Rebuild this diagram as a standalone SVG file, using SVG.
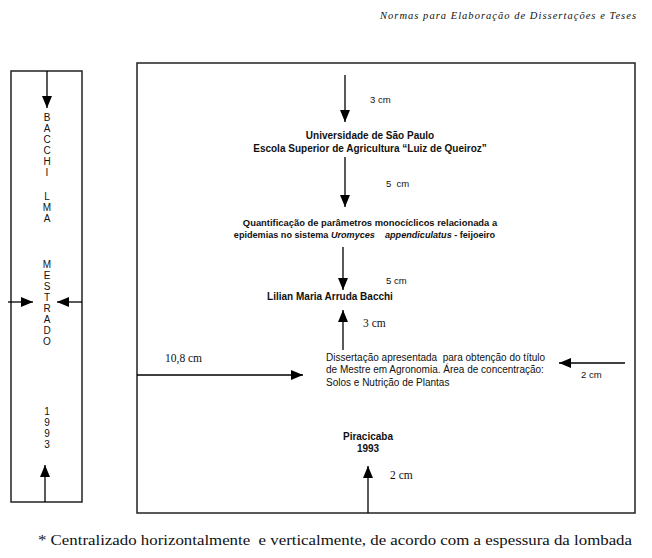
<svg xmlns="http://www.w3.org/2000/svg" width="652" height="558" viewBox="0 0 652 558">
<style>
.box{fill:none;stroke:#222;stroke-width:1.5}
.arr{fill:none;stroke:#000;stroke-width:1.3;marker-end:url(#ah)}
.sans{font-family:"Liberation Sans",Arial,sans-serif;fill:#111}
.b{font-weight:bold}
.serif{font-family:"Liberation Serif","Times New Roman",serif;fill:#111}
.sp{font-family:"Liberation Sans",Arial,sans-serif;font-size:10px;fill:#111;text-anchor:middle}
</style>
<defs>
<marker id="ah" markerUnits="userSpaceOnUse" markerWidth="12" markerHeight="10" refX="12" refY="5" orient="auto">
<path d="M0,0 L12,5 L0,10 z" fill="#000"/>
</marker>
</defs>
<text class="serif" x="380" y="19" font-size="10.5" font-style="italic" textLength="256" lengthAdjust="spacing">Normas para Elaboração de Dissertações e Teses</text>

<g id="spine">
<rect class="box" x="11" y="71" width="71" height="431"/>
<text class="sp" x="47" y="121">B</text>
<text class="sp" x="47" y="132">A</text>
<text class="sp" x="47" y="143">C</text>
<text class="sp" x="47" y="154">C</text>
<text class="sp" x="47" y="165">H</text>
<text class="sp" x="47" y="176">I</text>
<text class="sp" x="47" y="200">L</text>
<text class="sp" x="47" y="211">M</text>
<text class="sp" x="47" y="222">A</text>
<text class="sp" x="47" y="268">M</text>
<text class="sp" x="47" y="279">E</text>
<text class="sp" x="47" y="290">S</text>
<text class="sp" x="47" y="301">T</text>
<text class="sp" x="47" y="312">R</text>
<text class="sp" x="47" y="323">A</text>
<text class="sp" x="47" y="334">D</text>
<text class="sp" x="47" y="345">O</text>
<text class="sp" x="47" y="415">1</text>
<text class="sp" x="47" y="426">9</text>
<text class="sp" x="47" y="437">9</text>
<text class="sp" x="47" y="448">3</text>
</g>

<g id="page">
<rect class="box" x="137" y="63" width="498" height="450"/>
</g>

<g id="univ">
<text class="sans b" x="370" y="139" font-size="10" text-anchor="middle">Universidade de São Paulo</text>
<text class="sans b" x="370" y="152" font-size="10" text-anchor="middle">Escola Superior de Agricultura “Luiz de Queiroz”</text>
</g>
<g id="title">
<text class="sans b" x="370" y="226" font-size="9.4" text-anchor="middle">Quantificação de parâmetros monocíclicos relacionada a</text>
<text class="sans b" x="364.5" y="238" font-size="9.1" text-anchor="middle" xml:space="preserve">epidemias no sistema <tspan font-style="italic">Uromyces    appendiculatus</tspan> - feijoeiro</text>
</g>
<g id="author">
<text class="sans b" x="330" y="300" font-size="10" text-anchor="middle">Lilian Maria Arruda Bacchi</text>
</g>
<g id="dissert">
<text class="sans" x="326" y="361" font-size="10" xml:space="preserve">Dissertação apresentada  para obtenção do título</text>
<text class="sans" x="326" y="373" font-size="10">de Mestre em Agronomia. Área de concentração:</text>
<text class="sans" x="326" y="386" font-size="10">Solos e Nutrição de Plantas</text>
</g>
<g id="place">
<text class="sans b" x="368" y="440" font-size="10" text-anchor="middle">Piracicaba</text>
<text class="sans b" x="368" y="452" font-size="10" text-anchor="middle">1993</text>
</g>

<g id="connectors">
<line class="arr" x1="47" y1="71" x2="47" y2="108"/>
<line class="arr" x1="8" y1="302" x2="33" y2="302"/>
<line class="arr" x1="82" y1="302" x2="57" y2="302"/>
<line class="arr" x1="45" y1="502" x2="45" y2="465"/>
<line class="arr" x1="345" y1="75" x2="345" y2="122"/>
<line class="arr" x1="345" y1="157" x2="345" y2="207"/>
<line class="arr" x1="343" y1="247" x2="343" y2="290"/>
<line class="arr" x1="343" y1="350" x2="343" y2="310"/>
<line class="arr" x1="137" y1="375" x2="303" y2="375"/>
<line class="arr" x1="625" y1="363" x2="559" y2="363"/>
<line class="arr" x1="368" y1="513" x2="368" y2="466"/>
</g>

<g id="labels">
<text class="sans" x="370" y="103" font-size="9.5">3 cm</text>
<text class="sans" x="386" y="187" font-size="9.5" xml:space="preserve">5  cm</text>
<text class="sans" x="386" y="284" font-size="9.5">5 cm</text>
<text class="serif" x="363" y="327" font-size="11.5">3 cm</text>
<text class="serif" x="165" y="362" font-size="11.5">10,8 cm</text>
<text class="sans" x="581" y="378" font-size="9.5">2 cm</text>
<text class="serif" x="390" y="479" font-size="11.5">2 cm</text>
</g>

<text class="serif" x="38" y="545" font-size="15.5" textLength="594" lengthAdjust="spacingAndGlyphs" xml:space="preserve">* Centralizado horizontalmente  e verticalmente, de acordo com a espessura da lombada</text>
</svg>
